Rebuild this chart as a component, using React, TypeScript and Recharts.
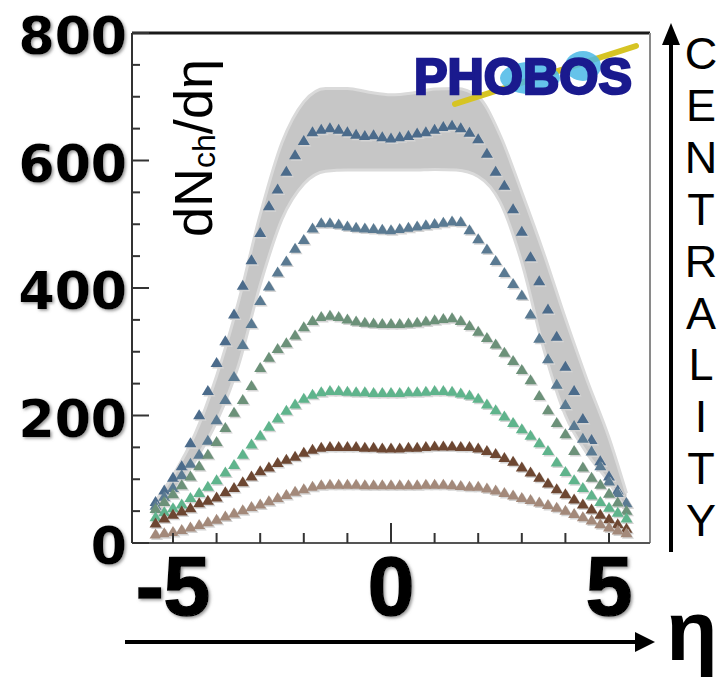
import React from "react";
import { ComposedChart, Scatter, Area, XAxis, YAxis, ReferenceLine } from "recharts";

// pseudorapidity bins
const eta = [
  -5.4, -5.2, -5.0, -4.8, -4.6, -4.4, -4.2, -4.0, -3.8, -3.6, -3.4, -3.2, -3.0, -2.8,
  -2.6, -2.4, -2.2, -2.0, -1.8, -1.6, -1.4, -1.2, -1.0, -0.8, -0.6, -0.4, -0.2, 0,
  0.2, 0.4, 0.6, 0.8, 1.0, 1.2, 1.4, 1.6, 1.8, 2.0, 2.2, 2.4, 2.6, 2.8, 3.0, 3.2,
  3.4, 3.6, 3.8, 4.0, 4.2, 4.4, 4.6, 4.8, 5.0, 5.2, 5.4,
];

// dN/deta per centrality class, most central first
const cent1 = [
  66, 84, 104, 122, 158, 202, 240, 284, 318, 360, 405, 445, 488, 530, 556, 584, 610, 632,
  646, 650, 652, 650, 646, 642, 640, 641, 638, 636, 638, 640, 644, 646, 650, 654, 656,
  652, 645, 635, 612, 584, 562, 525, 490, 450, 412, 368, 325, 278, 240, 196, 163, 130,
  106, 84, 64,
];
const cent2 = [
  60, 74, 88, 108, 126, 140, 162, 194, 226, 262, 312, 345, 381, 404, 426, 443, 463, 477,
  495, 503, 503, 501, 498, 496, 495, 494, 493, 492, 494, 496, 498, 500, 502, 504, 506,
  505, 492, 478, 462, 444, 425, 408, 390, 360, 322, 290, 250, 218, 185, 165, 145, 122,
  98, 80, 64,
];
const cent3 = [
  55, 66, 78, 92, 106, 122, 140, 160, 182, 206, 226, 248, 276, 292, 306, 315, 327, 340,
  350, 356, 358, 356, 352, 349, 347, 346, 345, 345, 345, 346, 347, 349, 351, 353, 354,
  350, 342, 333, 323, 313, 300, 287, 273, 257, 232, 210, 190, 172, 146, 120, 104, 93,
  79, 65, 52,
];
const cent4 = [
  42, 50, 56, 62, 72, 80, 90, 100, 112, 124, 140, 156, 170, 184, 197, 209, 219, 228,
  234, 238, 240, 240, 239, 238, 238, 237, 237, 237, 237, 238, 238, 239, 240, 240, 239,
  236, 233, 228, 219, 210, 200, 190, 180, 170, 158, 146, 128, 113, 100, 88, 76, 66,
  57, 49, 40,
];
const cent5 = [
  32, 40, 46, 51, 56, 64, 68, 73, 81, 88, 97, 106, 114, 120, 127, 132, 137, 143, 148,
  151, 152, 152, 152, 152, 151, 151, 150, 150, 150, 151, 151, 152, 153, 153, 153, 152,
  152, 150, 146, 141, 135, 129, 120, 112, 104, 95, 86, 78, 70, 62, 54, 46, 39, 31, 24,
];
const cent6 = [
  15, 17, 19, 22, 26, 30, 34, 38, 43, 48, 53, 58, 62, 67, 72, 77, 82, 86, 90, 92, 93,
  93, 93, 93, 92, 92, 92, 92, 92, 92, 92, 93, 93, 93, 92, 91, 90, 90, 87, 84, 80, 76,
  72, 69, 65, 61, 57, 52, 47, 42, 37, 31, 26, 21, 17,
];

// systematic band around the most central class
const bandEta = [
  -5.4, -5.0, -4.5, -4.0, -3.5, -3.0, -2.5, -2.0, -1.5, -1.0, -0.5, 0, 0.5, 1.0, 1.5,
  2.0, 2.5, 3.0, 3.5, 4.0, 4.5, 5.0, 5.4,
];
const bandHigh = [
  66, 106, 170, 262, 378, 515, 628, 692, 713, 713, 707, 703, 706, 712, 713, 700, 640,
  550, 455, 352, 255, 165, 78,
];
const bandLow = [
  35, 78, 128, 190, 278, 405, 508, 563, 583, 585, 585, 585, 585, 586, 585, 575, 535,
  440, 305, 200, 140, 95, 50,
];

const xTicks = [-5, -4, -3, -2, -1, 0, 1, 2, 3, 4, 5];
const xLabels = [-5, 0, 5];
const yTicks = [0, 50, 100, 150, 200, 250, 300, 350, 400, 450, 500, 550, 600, 650, 700, 750, 800];
const yLabels = [0, 200, 400, 600, 800];
const centralityLetters = ["C", "E", "N", "T", "R", "A", "L", "I", "T", "Y"];

const series = [
  { values: cent1, color: "#4b6b8b" },
  { values: cent2, color: "#5a7a92" },
  { values: cent3, color: "#6c9179" },
  { values: cent4, color: "#5fb48c" },
  { values: cent5, color: "#6d4732" },
  { values: cent6, color: "#a3897a" },
];

const bandData = bandEta.map((x, i) => ({ x, range: [bandLow[i], bandHigh[i]] }));

const triangle = (color: string) => (props: any) => {
  const { cx, cy } = props;
  if (cx == null || cy == null) return <g />;
  const w = 6;
  const h = 10;
  const path = (dx: number, dy: number) =>
    `M${cx + dx},${cy - h / 2 + dy} L${cx + w + dx},${cy + h / 2 + dy} L${cx - w + dx},${cy + h / 2 + dy} Z`;
  return (
    <g>
      <path d={path(1.5, 1.5)} fill="#d4d4d4" />
      <path d={path(0, 0)} fill={color} />
    </g>
  );
};

const XTick = (props: any) => {
  const { x, y, payload } = props;
  const v = payload.value;
  const len = v === 0 ? 20 : 10;
  return (
    <g>
      <line x1={x} y1={y} x2={x} y2={y - len} stroke="#333" strokeWidth={2} />
      {xLabels.includes(v) && (
        <text x={x} y={y + 72} textAnchor="middle" fontFamily="Liberation Sans" fontWeight="bold"
          fontSize={84} fill="#000" stroke="#000" strokeWidth={1.5} filter="url(#soft)">{v}</text>
      )}
    </g>
  );
};

const YTick = (props: any) => {
  const { x, y, payload } = props;
  const v = payload.value;
  const major = yLabels.includes(v);
  return (
    <g>
      <line x1={x} y1={y} x2={x + (major ? 17 : 8)} y2={y} stroke="#333" strokeWidth={2} />
      {major && (
        <text x={x - 5} y={y + 21} textAnchor="end" fontFamily="DejaVu Sans" fontWeight="bold"
          fontSize={52} fill="#000" filter="url(#soft)">{v}</text>
      )}
    </g>
  );
};

export default function App() {
  return (
    <div style={{ position: "absolute", left: 0, top: 0, width: 724, height: 678, background: "#fff" }}>
      <svg width={0} height={0} style={{ position: "absolute" }}>
        <defs>
          <filter id="soft" x="-20%" y="-20%" width="140%" height="140%">
            <feDropShadow dx="1.5" dy="1.5" stdDeviation="1.8" floodColor="#888" floodOpacity="0.9" />
          </filter>
        </defs>
      </svg>
      <ComposedChart width={724} height={678} margin={{ top: 33, right: 74, bottom: 105, left: 72 }}>
        <XAxis dataKey="x" type="number" domain={[-5.94, 5.94]} ticks={xTicks} interval={0}
          allowDataOverflow height={30} tickSize={0} tickMargin={0} tickLine={false}
          axisLine={{ stroke: "#555", strokeWidth: 2 }} tick={<XTick />} />
        <YAxis type="number" domain={[0, 800]} ticks={yTicks} interval={0} width={60}
          tickSize={0} tickMargin={0} tickLine={false}
          axisLine={{ stroke: "#333", strokeWidth: 2 }} tick={<YTick />} />
        <Area data={bandData} dataKey="range" type="monotone" fill="#c6c6c6" fillOpacity={1}
          stroke="#dadada" strokeWidth={3} isAnimationActive={false} />
        {series.map((s, i) => (
          <Scatter key={i} data={eta.map((x, j) => ({ x, y: s.values[j] }))} dataKey="y"
            shape={triangle(s.color)} isAnimationActive={false} />
        ))}
        <ReferenceLine y={800} stroke="#1a1a1a" strokeWidth={3} />
        <ReferenceLine x={5.94} stroke="#8a8a8a" strokeWidth={2} />
      </ComposedChart>
      <svg width={724} height={678} style={{ position: "absolute", left: 0, top: 0, pointerEvents: "none" }}>
        <text x={212} y={148} transform="rotate(-90 212 148)" textAnchor="middle"
          fontFamily="Liberation Sans" fontSize={54} fill="#000">
          dN<tspan fontSize={32} dy={3}>ch</tspan>
          <tspan dy={-3}>/dη</tspan>
        </text>
        <line x1={455} y1={104} x2={636} y2={46} stroke="#d6c424" strokeWidth={6} strokeLinecap="round" />
        <ellipse cx={530} cy={78} rx={30} ry={16} fill="#4ab8e6" opacity={0.85} />
        <ellipse cx={583} cy={66} rx={18} ry={15} fill="#4ab8e6" opacity={0.85} />
        <text x={414} y={94} fontFamily="Liberation Sans" fontWeight="bold"
          fontSize={50} fill="#1a1a8e" stroke="#1a1a8e" strokeWidth={2.5}
          textLength={218} lengthAdjust="spacingAndGlyphs">PHOBOS</text>
        <line x1={671} y1={40} x2={671} y2={552} stroke="#000" strokeWidth={4} />
        <polygon points="671,23 662,45 680,45" fill="#000" />
        {centralityLetters.map((ch, i) => (
          <text key={i} x={701} y={69 + 51.9 * i} textAnchor="middle" fontFamily="Liberation Sans"
            fontSize={45} fill="#000">{ch}</text>
        ))}
        <line x1={125} y1={642} x2={640} y2={642} stroke="#000" strokeWidth={4} />
        <polygon points="655,642 635,632 635,652" fill="#000" />
        <text x={692} y={660} textAnchor="middle" fontFamily="Liberation Sans" fontWeight="bold"
          fontSize={84} fill="#000">η</text>
      </svg>
    </div>
  );
}
